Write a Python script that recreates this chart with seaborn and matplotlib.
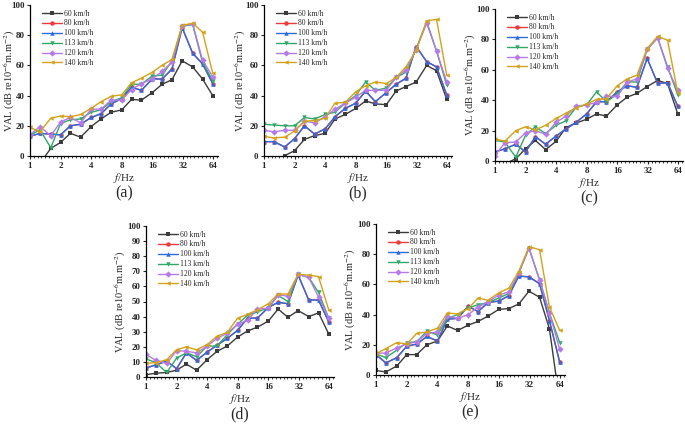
import numpy as np
import pandas as pd
import matplotlib
matplotlib.use("Agg")
import matplotlib.pyplot as plt
import seaborn as sns
from matplotlib.ticker import FixedLocator, FixedFormatter, NullFormatter

sns.set_theme(style="ticks")
plt.rcParams['font.family'] = ['Liberation Serif', 'DejaVu Serif']
plt.rcParams['mathtext.fontset'] = 'stix'

freqs = [1, 1.25, 1.6, 2, 2.5, 3.15, 4, 5, 6.3, 8, 10, 12.5, 16, 20, 25, 31.5, 40, 50, 63]
speeds = ["60 km/h", "80 km/h", "100 km/h", "113 km/h", "120 km/h", "140 km/h"]
xticks = [1, 2, 4, 8, 16, 32, 64]
panel_labels = ["(a)", "(b)", "(c)", "(d)", "(e)"]

# Panel (a)
a_60 = [-8, -5, 5, 9, 15, 12.5, 19.5, 24.5, 29, 30.5, 37.5, 37, 42, 47.5, 50.5, 63, 59, 51, 40]
a_100 = [13, 15, 14.5, 14, 20, 21, 25.5, 28, 34.5, 38, 45.5, 43.5, 51, 51, 57.5, 85, 68, 61, 48]
a_80 = a_100
a_113 = [13.5, 17.5, 5.5, 21.5, 24, 24.5, 29, 30.5, 36, 38.5, 47.5, 47.5, 53, 53.5, 63, 86, 87, 62, 50]
a_120 = [14, 19.5, 13.5, 22.5, 25.5, 22, 31, 31, 37, 37, 44, 48, 51, 56, 62, 86, 87.5, 63.5, 52.5]
a_140 = [19, 16, 25, 26.5, 26, 27.5, 31.5, 36, 39.5, 40.5, 48.5, 51.5, 55.5, 60, 64, 86.5, 88, 82, 55]

# Panel (b)
b_60 = [-6, -4, 0.3, 3.5, 11, 13.5, 15, 24.5, 27.5, 31.5, 36.5, 34.5, 34, 43, 46, 49, 60, 56.5, 37.5]
b_100 = [9.5, 9.5, 6, 11.5, 20, 14.5, 18, 26, 31.5, 35, 43, 36, 42, 47.5, 51.5, 72.5, 62.5, 59, 40.5]
b_80 = b_100
b_113 = [21, 20.5, 20, 20, 25.5, 24.5, 27.5, 29, 35, 40, 49, 43.5, 45, 52, 55.5, 71, 89, 69.5, 47]
b_120 = [17, 16, 17, 17, 23, 22, 26, 31, 35, 39, 43.5, 43.5, 43.5, 52, 57, 70.5, 88, 69.5, 49]
b_140 = [13, 12, 12.5, 16.5, 23, 23.5, 25, 35, 35.5, 42.5, 46.5, 49, 48, 52, 59, 70, 89.5, 90.5, 53.5]

# Panel (c)
c_60 = [-5, -2, 1.5, 8, 13.5, 7.5, 13, 22, 25, 27.5, 31, 29.5, 37, 42, 44.5, 49, 53, 51, 31]
c_100 = [6, 8, 11, 6, 16, 11, 16.5, 21, 25.5, 31, 39, 39, 45.5, 49.5, 48.5, 67.5, 51, 51.5, 36]
c_80 = c_100
c_113 = [13.5, 12.5, 2.5, 17, 22.5, 18, 23.5, 26.5, 35.5, 37, 45.5, 39, 44, 52, 52, 73.5, 81, 62, 43.5]
c_120 = [3.5, 12, 12.5, 18.5, 20, 17.5, 25.5, 29.5, 36, 37, 38.5, 42.5, 42.5, 52, 54, 73.5, 81, 61, 46.5]
c_140 = [14.5, 13, 20, 22.5, 20.5, 23.5, 28, 31.5, 35, 37.5, 40.5, 41, 49.5, 54, 56.5, 74, 82, 79.5, 45]

# Panel (d)
d_60 = [1.5, 2.5, 3, 4.5, 8.5, 4.5, 11.5, 17, 20.5, 26.5, 30.5, 33, 37, 45, 39.5, 44, 40, 42.5, 28.5]
d_100 = [6, 8, 10.5, 5.5, 16, 11, 16.5, 21, 25.5, 31, 39, 39, 46, 49.5, 48.5, 67.5, 51, 51, 36.5]
d_80 = d_100
d_113 = [12, 9.5, 3, 12.5, 16, 13.5, 20.5, 20.5, 28, 35, 41, 43, 46, 54, 50, 68, 66, 56, 39]
d_120 = [15, 11, 9, 17.5, 17, 16, 20.5, 25.5, 29, 35, 37.5, 45, 45.5, 54.5, 53.5, 68, 66, 53, 39]
d_140 = [9, 9.5, 11.5, 18, 20, 18, 21.5, 27, 29.5, 39, 41.5, 44.5, 48.5, 55, 55, 68, 67.5, 66.5, 44.5]

# Panel (e)
e_60 = [3, 2, 6, 13.5, 13.5, 20, 22.5, 32.5, 29.5, 33, 35.5, 39, 43.5, 44, 47, 55.5, 51.5, 30.5, -18]
e_100 = [13.5, 8, 11.5, 19, 20.5, 25.5, 22.5, 37, 37.5, 45.5, 42, 48, 49, 52.5, 65.5, 65, 60.5, 36, 8.5]
e_80 = e_100
e_113 = [14, 11.5, 16.5, 21.5, 22, 29, 26.5, 37.5, 40, 44.5, 46.5, 48, 51, 54, 67.5, 84, 63, 41, 21.5]
e_120 = [14.5, 14.5, 18, 20.5, 22, 27.5, 28.5, 39, 37.5, 40, 45, 48.5, 53, 55, 67.5, 84, 63, 41, 17]
e_140 = [14, 17.5, 21.5, 20.5, 27.5, 28.5, 31, 41, 40.5, 44, 51, 49.5, 54.5, 57.5, 68.5, 85, 83, 45, 29.5]

panels = [
    [a_60, a_80, a_100, a_113, a_120, a_140],
    [b_60, b_80, b_100, b_113, b_120, b_140],
    [c_60, c_80, c_100, c_113, c_120, c_140],
    [d_60, d_80, d_100, d_113, d_120, d_140],
    [e_60, e_80, e_100, e_113, e_120, e_140],
]

colors = ["#3c3c3c", "#f03a3a", "#2a6be0", "#30a868", "#b57ae8", "#d4a21a"]
markers = ["s", "o", "^", "v", "D", "<"]

W, H = 685, 425
boxes = [  # left, top, right, bottom in px
    (30, 5, 218, 156),
    (264, 5, 452, 156),
    (495, 9, 683, 161),
    (146, 226, 334, 377),
    (376, 224, 565, 375),
]
ylabel_x = [9, 240, 470, 120, 350]

fig = plt.figure(figsize=(6.85, 4.25), dpi=100)
for i, (series, box) in enumerate(zip(panels, boxes)):
    l, t, r, b = box
    ax = fig.add_axes([l / W, 1 - b / H, (r - l) / W, (b - t) / H])
    rows = []
    for name, vals in zip(speeds, series):
        for f, v in zip(freqs, vals):
            rows.append({"f": f, "VAL": v, "speed": name})
    df = pd.DataFrame(rows)
    sns.lineplot(data=df, x="f", y="VAL", hue="speed", style="speed",
                 palette=colors, markers=markers, dashes=False,
                 markersize=3.2, markeredgewidth=0, linewidth=1.0, ax=ax,
                 legend=True)
    ax.set_xscale("log", base=2)
    ax.set_xlim(1, 71)
    ax.set_ylim(0, 100)
    ax.xaxis.set_major_locator(FixedLocator(xticks))
    ax.xaxis.set_major_formatter(FixedFormatter([str(x) for x in xticks]))
    minor = [2 ** (k / 8) for k in range(0, 50) if k % 8 != 0]
    ax.xaxis.set_minor_locator(FixedLocator(minor))
    ax.xaxis.set_minor_formatter(NullFormatter())
    if i == 3:
        ax.set_yticks(range(0, 101, 10))
    else:
        ax.set_yticks(range(0, 101, 20))
    ax.tick_params(axis="both", which="major", labelsize=6.5, length=2.5,
                   width=0.8, pad=1.5, direction="out")
    ax.tick_params(axis="x", which="minor", length=1.5, width=0.6, direction="out")
    for lab in ax.get_xticklabels() + ax.get_yticklabels():
        lab.set_fontweight("bold")
    for s in ["top", "right"]:
        ax.spines[s].set_visible(False)
    for s in ["left", "bottom"]:
        ax.spines[s].set_linewidth(0.9)
        ax.spines[s].set_color("black")
    ax.set_xlabel("$f$/Hz", fontsize=8)
    ax.xaxis.set_label_coords(0.5, -22 / (b - t))
    ax.xaxis.label.set_va("center")
    ax.set_ylabel("VAL (dB re10$^{-6}$m.m$^{-2}$)", fontsize=7.5)
    ax.yaxis.set_label_coords((ylabel_x[i] - l) / (r - l), 0.5)
    ax.yaxis.label.set_va("center")
    ax.legend(loc="upper left", bbox_to_anchor=(0.04, 1.0), frameon=False,
              fontsize=5.5, handlelength=2.6, labelspacing=0.25,
              borderaxespad=0.2, handletextpad=0.3)
    ax.text(0.5, -37 / (b - t), panel_labels[i], transform=ax.transAxes,
            ha="center", va="center", fontsize=11.5)

fig.savefig("out.png", dpi=100)
